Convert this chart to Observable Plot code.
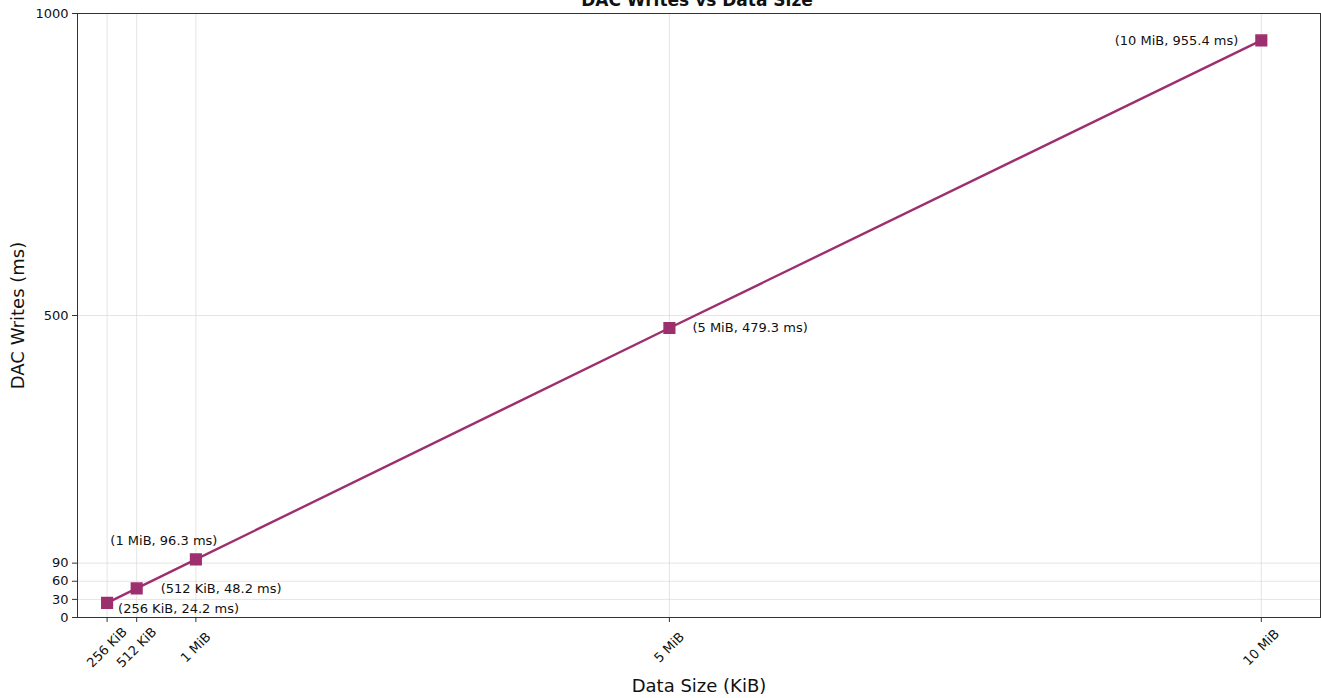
<!DOCTYPE html>
<html>
<head>
<meta charset="utf-8">
<script src="https://cdn.jsdelivr.net/npm/d3@7"></script>
<script src="https://cdn.jsdelivr.net/npm/@observablehq/plot@0.6"></script>
<style>
  html, body { margin: 0; padding: 0; background: #fff; overflow: hidden; }
  #wrap { position: relative; width: 1321px; height: 698px; font-family: "DejaVu Sans", sans-serif; }
  #title { position: absolute; left: 0; width: 1394px; top: -10px; text-align: center; font-weight: bold; font-size: 17px; color: #111; }
</style>
</head>
<body>
<div id="wrap">
  <div id="chart"></div>
  <div id="title">DAC Writes vs Data Size</div>
</div>
<script>
const sizesKiB = [256, 512, 1024, 5120, 10240];
const tickLabels = ["256 KiB", "512 KiB", "1 MiB", "5 MiB", "10 MiB"];
const writesMs = [24.2, 48.2, 96.3, 479.3, 955.4];
const yTicks = [0, 30, 60, 90, 500, 1000];

const data = sizesKiB.map((s, i) => ({size: s, ms: writesMs[i], label: `(${tickLabels[i]}, ${writesMs[i].toFixed(1)} ms)`}));
const ticks = sizesKiB.map((s, i) => ({size: s, label: tickLabels[i]}));
const color = "#9e2f6f";
const font = "DejaVu Sans, sans-serif";

const lab = (i, opts) => Plot.text(data.filter((d, j) => j === i), {x: "size", y: "ms", text: "label", fontSize: 13, fill: "#111", ...opts});

const chart = Plot.plot({
  width: 1321,
  height: 698,
  marginLeft: 77,
  marginRight: 1,
  marginTop: 13,
  marginBottom: 81,
  style: {fontFamily: font, fontSize: "13px", color: "#111", background: "#fff"},
  x: {domain: [0, 10752], label: null},
  y: {domain: [0, 1000], label: null},
  marks: [
    Plot.gridX(sizesKiB, {stroke: "#d8d8d8", strokeOpacity: 0.7}),
    Plot.gridY(yTicks, {stroke: "#d8d8d8", strokeOpacity: 0.7}),
    Plot.frame({stroke: "#333"}),
    Plot.axisX(sizesKiB, {tickFormat: () => "", tickSize: 5, label: null, stroke: "#333"}),
    Plot.text(ticks, {x: "size", text: "label", frameAnchor: "bottom", dy: 30, rotate: -45, textAnchor: "middle", lineAnchor: "middle", fontSize: 13, fill: "#111"}),
    Plot.axisY(yTicks, {tickSize: 5, fontSize: 13, tickPadding: 4, tickFormat: d => String(d), label: null, stroke: "#333"}),
    Plot.lineY(data, {x: "size", y: "ms", stroke: color, strokeWidth: 2.4}),
    Plot.dot(data, {x: "size", y: "ms", symbol: "square", r: 6, fill: color, stroke: color}),
    lab(0, {dx: 11, dy: 6, textAnchor: "start"}),
    lab(1, {dx: 24, dy: 0, textAnchor: "start"}),
    lab(2, {dx: -32, dy: -19, textAnchor: "middle"}),
    lab(3, {dx: 23, dy: 0, textAnchor: "start"}),
    lab(4, {dx: -23, dy: 0, textAnchor: "end"}),
    Plot.text(["Data Size (KiB)"], {frameAnchor: "bottom", dy: 74, fontSize: 18, fill: "#111"}),
    Plot.text(["DAC Writes (ms)"], {frameAnchor: "left", dx: -59, rotate: -90, textAnchor: "middle", fontSize: 18, fill: "#111"})
  ]
});
document.getElementById("chart").appendChild(chart);
</script>
</body>
</html>
